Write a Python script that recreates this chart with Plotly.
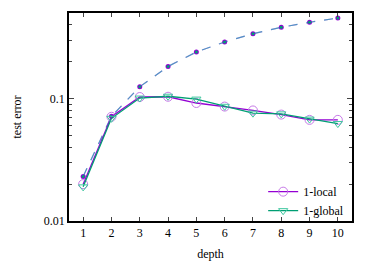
import plotly.graph_objects as go

depth = [1, 2, 3, 4, 5, 6, 7, 8, 9, 10]
local_test = [0.0200, 0.0710, 0.1030, 0.1035, 0.0920, 0.0860, 0.0800, 0.0740, 0.0670, 0.0670]
global_test = [0.0190, 0.0690, 0.1010, 0.1045, 0.0990, 0.0865, 0.0760, 0.0750, 0.0680, 0.0625]
local_dash = [0.0231, 0.0716, 0.125, 0.183, 0.240, 0.290, 0.339, 0.382, 0.420, 0.455]
global_dash = [0.0231, 0.0716, 0.125, 0.183, 0.240, 0.290, 0.339, 0.382, 0.420, 0.455]

ytick_vals = [0.01, 0.1]
ytick_text = ["0.01", "0.1"]
yminor_vals = [0.02, 0.03, 0.04, 0.05, 0.06, 0.07, 0.08, 0.09, 0.2, 0.3, 0.4, 0.5]

PURPLE = "#9400d3"
TEAL = "#009e73"
FONT = "Liberation Serif, Times New Roman, Times, serif"

fig = go.Figure()
fig.add_trace(go.Scatter(x=depth, y=local_dash, mode="lines+markers", showlegend=False,
                         line=dict(color="rgba(148,0,211,0.5)", width=1.2, dash="dash"),
                         marker=dict(symbol="circle", size=5, color=PURPLE)))
fig.add_trace(go.Scatter(x=depth, y=global_dash, mode="lines+markers", showlegend=False,
                         line=dict(color="rgba(0,158,170,0.6)", width=1.2, dash="dash"),
                         marker=dict(symbol="circle", size=3, color=TEAL)))
fig.add_trace(go.Scatter(x=depth, y=local_test, mode="lines+markers", name="1-local",
                         line=dict(color=PURPLE, width=1.3),
                         marker=dict(symbol="circle-open", size=9, color="#c77ae8", line=dict(width=1))))
fig.add_trace(go.Scatter(x=depth, y=global_test, mode="lines+markers", name="1-global",
                         line=dict(color=TEAL, width=1.3),
                         marker=dict(symbol="triangle-down-open", size=8, color="#3cc79e", line=dict(width=1))))

# page body has an 8px default margin, so the figure is 8px smaller than the window
fig.update_layout(
    width=366, height=254,
    margin=dict(l=61, r=22, t=5, b=41),
    paper_bgcolor="white", plot_bgcolor="white",
    font=dict(family=FONT, size=12, color="black"),
    legend=dict(x=0.99, y=-0.02, xanchor="right", yanchor="bottom",
                bgcolor="rgba(0,0,0,0)", font=dict(family=FONT, size=12),
                tracegroupgap=0, itemwidth=30),
)
fig.update_xaxes(
    range=[0.5, 10.5], tickvals=depth, ticks="inside", ticklen=4,
    showline=True, linecolor="black", linewidth=1.5, mirror="allticks",
    showgrid=False, zeroline=False, automargin=False,
    title=dict(text="depth", standoff=10, font=dict(family=FONT, size=12)),
    tickfont=dict(family=FONT, size=12),
)
fig.update_yaxes(
    type="log", range=[-2, -0.301], tickvals=ytick_vals, ticktext=ytick_text,
    ticks="inside", ticklen=5, showline=True, linecolor="black", linewidth=1.5,
    mirror="allticks", showgrid=False, zeroline=False, automargin=False,
    minor=dict(tickvals=yminor_vals, ticks="inside", ticklen=3, showgrid=False),
    title=dict(text="test error", standoff=20, font=dict(family=FONT, size=12)),
    tickfont=dict(family=FONT, size=12),
)

fig.write_html("out.html")
